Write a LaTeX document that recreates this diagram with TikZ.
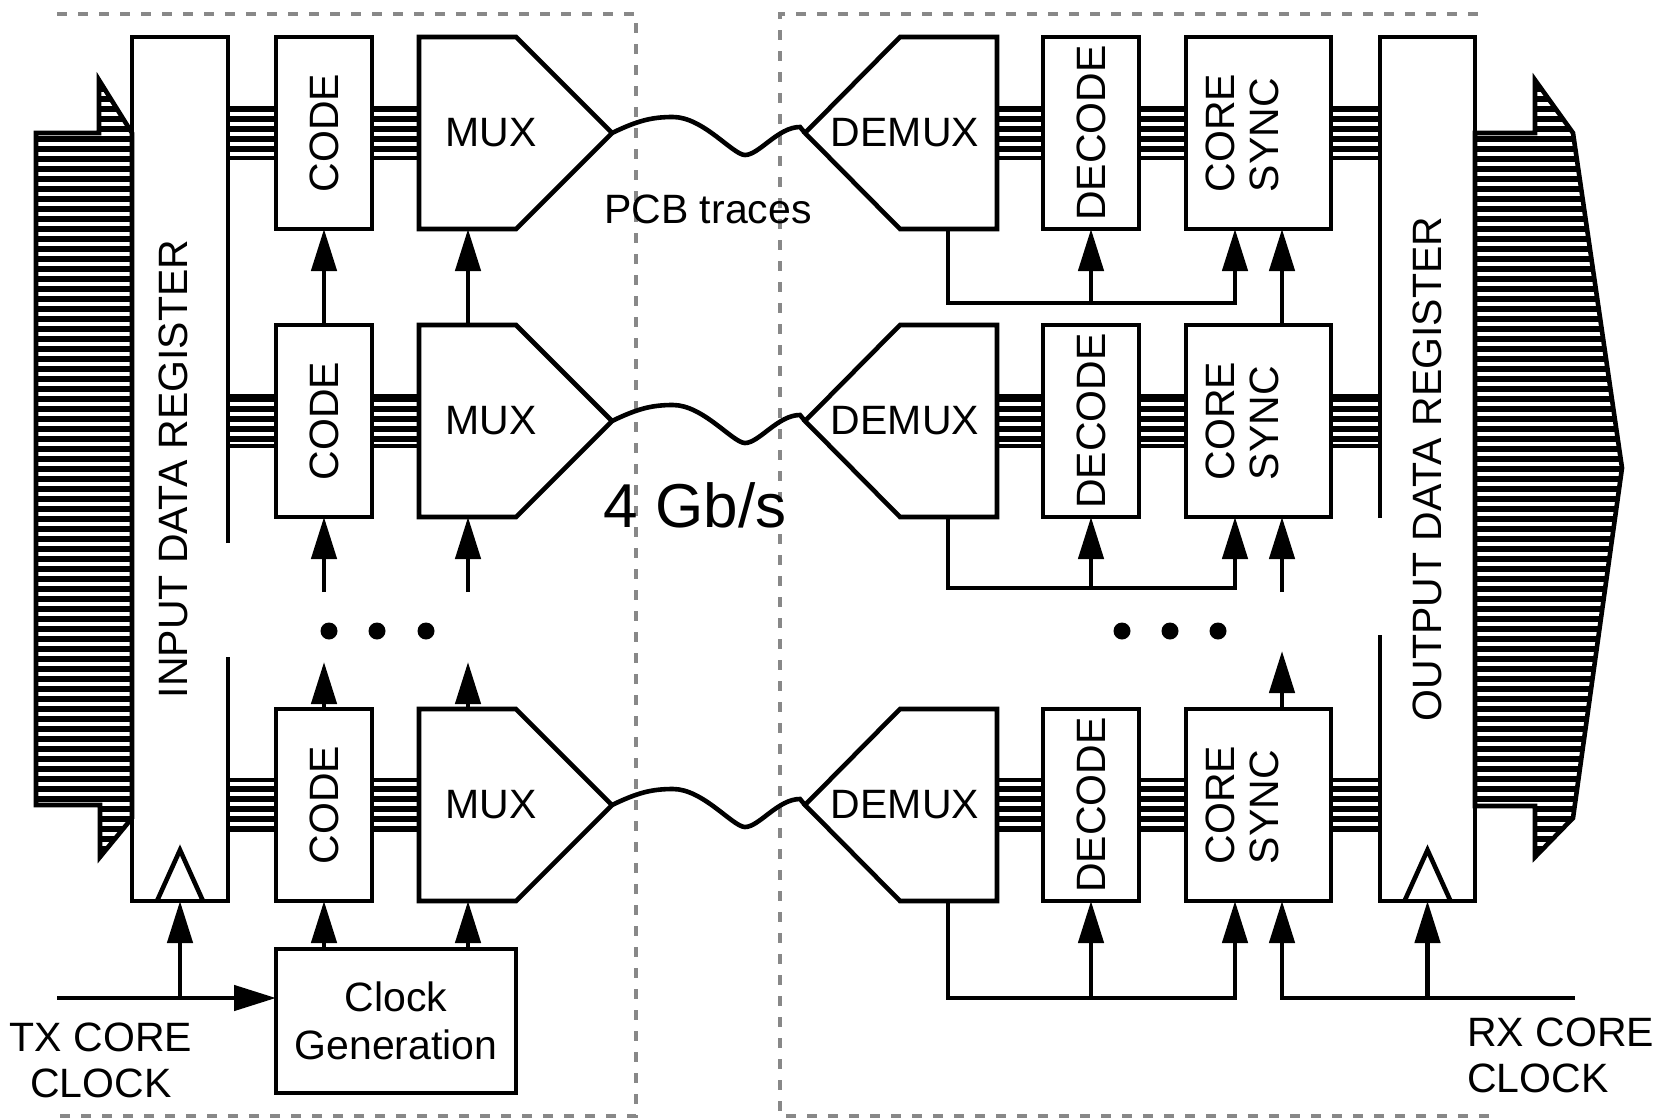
\documentclass[tikz,border=0pt]{standalone}
\usepackage{fontspec}
\setmainfont{Liberation Sans}
\usepackage{graphicx}
\usetikzlibrary{positioning, calc, arrows.meta, patterns.meta}

\definecolor{framegray}{RGB}{136,136,136}

\tikzstyle{block} = [rectangle, draw=black, line width=4.6pt, inner sep=0pt, outer sep=0pt, font=\fontsize{41}{44}\selectfont]
\tikzstyle{codebox} = [block, minimum width=96pt, minimum height=192pt]
\tikzstyle{syncbox} = [block, minimum width=145pt, minimum height=192pt]
\tikzstyle{muxbox} = [block, draw=none, minimum width=144pt, minimum height=192pt]
\tikzstyle{dmuxbox} = [block, draw=none, minimum width=184pt, minimum height=192pt]
\tikzstyle{regbox} = [block, draw=none, minimum width=96pt, minimum height=864pt]
\tikzstyle{clkbox} = [block, minimum width=240pt, minimum height=144pt, align=center, font=\fontsize{41}{48}\selectfont]
\tikzstyle{txt} = [inner sep=0pt, font=\fontsize{41}{46}\selectfont]
\tikzstyle{outline} = [draw=black, line width=4.6pt, line join=miter]
\tikzstyle{bus} = [outline, pattern={Lines[distance=10pt, line width=5.5pt]}]
\tikzstyle{arrow} = [line width=4.6pt, -{Triangle[length=42pt, width=25pt]}]
\tikzstyle{trace} = [line width=4.6pt]
\tikzstyle{frame} = [draw=framegray, line width=4.6pt, dash pattern=on 10pt off 11pt]

\begin{document}
\begin{tikzpicture}[x=1pt, y=-1pt]
  \useasboundingbox (0,0) rectangle (1663,1119);

  % chip outlines
  \draw [frame] (57,14) -- (636,14) -- (636,1116) -- (57,1116);
  \draw [frame] (1478,14) -- (780,14) -- (780,1116) -- (1500,1116);

  % parallel data in and out
  \draw [bus] (36,133) -- (99,133) -- (99,80) -- (132,133) -- (132,818) -- (100,857) -- (100,805) -- (36,805) -- cycle;
  \draw [bus] (1475,133) -- (1535,133) -- (1535,80) -- (1573,133) -- (1622,468) -- (1573,818) -- (1535,857) -- (1535,806) -- (1475,806) -- cycle;

  \node (INREG) [regbox] at (180,469) {\rotatebox{90}{INPUT DATA REGISTER}\hspace*{14pt}};
  \node (OUTREG) [regbox, minimum width=95pt] at (1427.5,469) {\rotatebox{90}{OUTPUT DATA REGISTER}};
  \draw [outline] ($(INREG.north east)+(0,506)$) -- (INREG.north east) -- (INREG.north west) -- (INREG.south west) -- (INREG.south east) -- ++(0,-244);
  \draw [outline] ($(OUTREG.north west)+(0,481)$) -- (OUTREG.north west) -- (OUTREG.north east) -- (OUTREG.south east) -- (OUTREG.south west) -- ++(0,-266);

  % first lane
  \node (CODE1) [codebox] at (324,133) {\rotatebox{90}{CODE}};
  \node (MUX1) [muxbox, right=47pt of CODE1] {MUX};
  \node (DMUX1) [dmuxbox, right=250pt of MUX1] {DEMUX};
  \node (DEC1) [codebox, right=46pt of DMUX1] {\rotatebox{90}{DECODE}};
  \node (SYNC1) [syncbox, right=47pt of DEC1] {\rotatebox{90}{\begin{tabular}{@{}l@{}}CORE\\SYNC\end{tabular}}\hspace*{22pt}};

  % second lane
  \node (CODE2) [codebox, below=96pt of CODE1] {\rotatebox{90}{CODE}};
  \node (MUX2) [muxbox, below=96pt of MUX1] {MUX};
  \node (DMUX2) [dmuxbox, below=96pt of DMUX1] {DEMUX};
  \node (DEC2) [codebox, below=96pt of DEC1] {\rotatebox{90}{DECODE}};
  \node (SYNC2) [syncbox, below=96pt of SYNC1] {\rotatebox{90}{\begin{tabular}{@{}l@{}}CORE\\SYNC\end{tabular}}\hspace*{22pt}};

  % last lane
  \node (CODE3) [codebox, below=192pt of CODE2] {\rotatebox{90}{CODE}};
  \node (MUX3) [muxbox, below=192pt of MUX2] {MUX};
  \node (DMUX3) [dmuxbox, below=192pt of DMUX2] {DEMUX};
  \node (DEC3) [codebox, below=192pt of DEC2] {\rotatebox{90}{DECODE}};
  \node (SYNC3) [syncbox, below=192pt of SYNC2] {\rotatebox{90}{\begin{tabular}{@{}l@{}}CORE\\SYNC\end{tabular}}\hspace*{22pt}};

  \node (CLKGEN) [clkbox, below=48pt of CODE3.south west, anchor=north west] {Clock\\Generation};

  % mux and demux outlines
  \draw [outline] (MUX1.north west) -- ++(97,0) -- ($(MUX1.west)+(193,0)$) -- ($(MUX1.south west)+(97,0)$) -- (MUX1.south west) -- cycle;
  \draw [outline] (MUX2.north west) -- ++(97,0) -- ($(MUX2.west)+(193,0)$) -- ($(MUX2.south west)+(97,0)$) -- (MUX2.south west) -- cycle;
  \draw [outline] (MUX3.north west) -- ++(97,0) -- ($(MUX3.west)+(193,0)$) -- ($(MUX3.south west)+(97,0)$) -- (MUX3.south west) -- cycle;
  \draw [outline] (DMUX1.north east) -- ++(-97,0) -- ($(DMUX1.east)+(-192,0)$) -- ($(DMUX1.south east)+(-97,0)$) -- (DMUX1.south east) -- cycle;
  \draw [outline] (DMUX2.north east) -- ++(-97,0) -- ($(DMUX2.east)+(-192,0)$) -- ($(DMUX2.south east)+(-97,0)$) -- (DMUX2.south east) -- cycle;
  \draw [outline] (DMUX3.north east) -- ++(-97,0) -- ($(DMUX3.east)+(-192,0)$) -- ($(DMUX3.south east)+(-97,0)$) -- (DMUX3.south east) -- cycle;

  % buses
  \draw [bus] ($(CODE1.west)+(-48,-25)$) rectangle ($(CODE1.west)+(0,25)$);
  \draw [bus] ($(CODE1.east)+(0,-25)$) rectangle ($(MUX1.west)+(0,25)$);
  \draw [bus] ($(DMUX1.east)+(0,-25)$) rectangle ($(DEC1.west)+(0,25)$);
  \draw [bus] ($(DEC1.east)+(0,-25)$) rectangle ($(SYNC1.west)+(0,25)$);
  \draw [bus] ($(SYNC1.east)+(0,-25)$) rectangle ($(SYNC1.east)+(49,25)$);
  \draw [bus] ($(CODE2.west)+(-48,-25)$) rectangle ($(CODE2.west)+(0,25)$);
  \draw [bus] ($(CODE2.east)+(0,-25)$) rectangle ($(MUX2.west)+(0,25)$);
  \draw [bus] ($(DMUX2.east)+(0,-25)$) rectangle ($(DEC2.west)+(0,25)$);
  \draw [bus] ($(DEC2.east)+(0,-25)$) rectangle ($(SYNC2.west)+(0,25)$);
  \draw [bus] ($(SYNC2.east)+(0,-25)$) rectangle ($(SYNC2.east)+(49,25)$);
  \draw [bus] ($(CODE3.west)+(-48,-25)$) rectangle ($(CODE3.west)+(0,25)$);
  \draw [bus] ($(CODE3.east)+(0,-25)$) rectangle ($(MUX3.west)+(0,25)$);
  \draw [bus] ($(DMUX3.east)+(0,-25)$) rectangle ($(DEC3.west)+(0,25)$);
  \draw [bus] ($(DEC3.east)+(0,-25)$) rectangle ($(SYNC3.west)+(0,25)$);
  \draw [bus] ($(SYNC3.east)+(0,-25)$) rectangle ($(SYNC3.east)+(49,25)$);

  % pcb traces
  \draw [trace] ($(MUX1.west)+(193,0)$) .. controls +(25,-12) and +(-22,0) .. ++(61,-16) .. controls +(30,0) and +(-12,0) .. ++(72,38) .. controls +(14,0) and +(-22,0) .. ++(55,-28) -- ($(DMUX1.east)+(-192,0)$);
  \draw [trace] ($(MUX2.west)+(193,0)$) .. controls +(25,-12) and +(-22,0) .. ++(61,-16) .. controls +(30,0) and +(-12,0) .. ++(72,38) .. controls +(14,0) and +(-22,0) .. ++(55,-28) -- ($(DMUX2.east)+(-192,0)$);
  \draw [trace] ($(MUX3.west)+(193,0)$) .. controls +(25,-12) and +(-22,0) .. ++(61,-16) .. controls +(30,0) and +(-12,0) .. ++(72,38) .. controls +(14,0) and +(-22,0) .. ++(55,-28) -- ($(DMUX3.east)+(-192,0)$);
  \node (PCB) [txt, anchor=base] at (708,223) {PCB traces};
  \node (RATE) [txt, anchor=base, font=\fontsize{62}{70}\selectfont] at (695,527) {4 Gb/s};

  % transmit clocks
  \coordinate (TXIN) at (57,998);
  \coordinate (C2IN) at ($(CODE2.south)+(0,75)$);
  \coordinate (M2IN) at ($(MUX2.south west)+(49,75)$);
  \coordinate (C3OUT) at ($(CODE3.north)+(0,-47)$);
  \coordinate (M3OUT) at ($(MUX3.north west)+(49,-47)$);
  \draw [arrow] (CODE2.north) -- (CODE1.south);
  \draw [arrow] ($(MUX2.north west)+(49,0)$) -- ($(MUX1.south west)+(49,0)$);
  \draw [arrow] (C2IN) -- (CODE2.south);
  \draw [arrow] (M2IN) -- ($(MUX2.south west)+(49,0)$);
  \draw [arrow] (CODE3.north) -- (C3OUT);
  \draw [arrow] ($(MUX3.north west)+(49,0)$) -- (M3OUT);
  \draw [arrow] (CODE3.south |- CLKGEN.north) -- (CODE3.south);
  \draw [arrow] ($(MUX3.south west)+(49,48)$) -- ($(MUX3.south west)+(49,0)$);
  \draw [arrow] (TXIN) -- (TXIN -| CLKGEN.west);
  \draw [arrow] (INREG.south |- TXIN) -- (INREG.south);
  \draw [outline] ($(INREG.south)+(-23,0)$) -- ($(INREG.south)+(0,-51)$) -- ($(INREG.south)+(23,0)$);
  \node (TXCLK) [txt, align=center] at (101,1060) {TX CORE\\CLOCK};

  % receive clocks
  \coordinate (FB1) at ($(DMUX1.south east)+(-49,74)$);
  \coordinate (FB2) at ($(DMUX2.south east)+(-49,71)$);
  \coordinate (FB3) at ($(DMUX3.south east)+(-49,97)$);
  \coordinate (RXIN) at (1575,998);
  \coordinate (S2IN) at ($(SYNC2.south east)+(-49,75)$);
  \coordinate (S3OUT) at ($(SYNC3.north east)+(-49,-58)$);
  \draw [arrow] ($(DMUX1.south east)+(-49,0)$) -- (FB1) -| ($(SYNC1.south west)+(49,0)$);
  \draw [arrow] (DEC1.south |- FB1) -- (DEC1.south);
  \draw [arrow] ($(DMUX2.south east)+(-49,0)$) -- (FB2) -| ($(SYNC2.south west)+(49,0)$);
  \draw [arrow] (DEC2.south |- FB2) -- (DEC2.south);
  \draw [arrow] ($(DMUX3.south east)+(-49,0)$) -- (FB3) -| ($(SYNC3.south west)+(49,0)$);
  \draw [arrow] (DEC3.south |- FB3) -- (DEC3.south);
  \draw [arrow] ($(SYNC2.north east)+(-49,0)$) -- ($(SYNC1.south east)+(-49,0)$);
  \draw [arrow] (S2IN) -- ($(SYNC2.south east)+(-49,0)$);
  \draw [arrow] ($(SYNC3.north east)+(-49,0)$) -- (S3OUT);
  \draw [arrow] (RXIN) -| ($(SYNC3.south east)+(-49,0)$);
  \draw [arrow] (OUTREG.south |- RXIN) -- (OUTREG.south);
  \draw [outline] ($(OUTREG.south)+(-23,0)$) -- ($(OUTREG.south)+(0,-51)$) -- ($(OUTREG.south)+(23,0)$);
  \node (RXCLK) [txt, align=left, anchor=west] at (1467,1055) {RX CORE\\CLOCK};

  % more lanes
  \fill (329,631) circle [radius=8.5pt];
  \fill (377,631) circle [radius=8.5pt];
  \fill (426,631) circle [radius=8.5pt];
  \fill (1122,631) circle [radius=8.5pt];
  \fill (1170,631) circle [radius=8.5pt];
  \fill (1218,631) circle [radius=8.5pt];
\end{tikzpicture}
\end{document}
